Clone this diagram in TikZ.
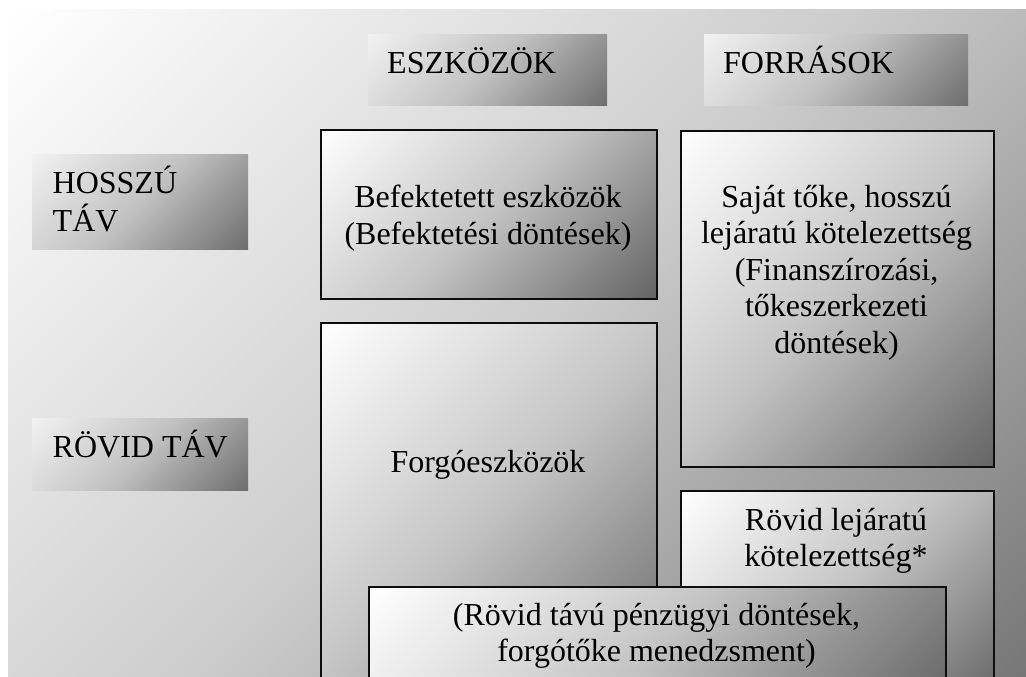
\documentclass[tikz,border=0pt]{standalone}
\usepackage{fontspec}
\setmainfont{Liberation Serif}

% grey tones of the diagonal gradients
\definecolor{bgmid}{HTML}{CDCDCD}
\definecolor{bgend}{HTML}{777777}
\definecolor{boxmid}{HTML}{C4C4C4}
\definecolor{boxend}{HTML}{646464}
\definecolor{headstart}{HTML}{F2F2F2}
\definecolor{headmid}{HTML}{C2C2C2}
\definecolor{headend}{HTML}{6E6E6E}

% corner-to-corner diagonal gradients (used with shading angle=-45)
\pgfdeclarehorizontalshading{bgshade}{100bp}{color(0bp)=(white); color(14.64bp)=(white); color(50bp)=(bgmid); color(85.36bp)=(bgend); color(100bp)=(bgend)}
\pgfdeclarehorizontalshading{boxshade}{100bp}{color(0bp)=(white); color(14.64bp)=(white); color(50bp)=(boxmid); color(85.36bp)=(boxend); color(100bp)=(boxend)}
\pgfdeclarehorizontalshading{headshade}{100bp}{color(0bp)=(headstart); color(14.64bp)=(headstart); color(50bp)=(headmid); color(85.36bp)=(headend); color(100bp)=(headend)}

\newcommand\bodyfont{\fontsize{32}{36.5}\selectfont}
\newcommand\headfont{\fontsize{32}{37.7}\selectfont}
\newcommand\bodytop{\rule{0pt}{33pt}}
\newcommand\headtop{\rule{0pt}{31pt}}

\tikzset{
  panel/.style={rectangle, inner sep=0pt, anchor=north west, shading=boxshade, shading angle=-45, draw=black!95, line width=2pt},
  headbox/.style={rectangle, inner sep=0pt, anchor=north west, shading=headshade, shading angle=-45},
  bodytext/.style={inner sep=0pt, anchor=north, align=center, font=\bodyfont, text=black},
  headtext/.style={inner sep=0pt, anchor=north west, align=left, font=\headfont, text=black}
}

\begin{document}
\begin{tikzpicture}[x=1pt, y=-1pt]
\useasboundingbox (0,0) rectangle (1026,677);
\clip (0,0) rectangle (1026,677);

% page background
\fill[white] (0,0) rectangle (1026,677);
\shade[shading=bgshade, shading angle=-45] (8,10) rectangle (1026,677);

% column and row headings
\node[headbox, minimum width=239pt, minimum height=71pt] (esz) at (368,34) {};
\node[headbox, minimum width=264pt, minimum height=71pt] (forr) at (704,34) {};
\node[headbox, minimum width=216pt, minimum height=95pt] (hos) at (32,154) {};
\node[headbox, minimum width=216pt, minimum height=72pt] (rov) at (32,418) {};

\node[headtext] (eszT) at (387,42) {\headtop ESZKÖZÖK};
\node[headtext] (forrT) at (723,42) {\headtop FORRÁSOK};
\node[headtext] (hosT) at (52.5,162.3) {\headtop HOSSZÚ\\TÁV};
\node[headtext] (rovT) at (52.5,426) {\headtop RÖVID TÁV};

% balance sheet panels
\node[panel, minimum width=336pt, minimum height=169pt] (bef) at (320,129) {};
\node[panel, minimum width=313pt, minimum height=336pt] (saj) at (680,130) {};
\node[panel, minimum width=336pt, minimum height=380pt] (forg) at (320,322) {};
\node[panel, minimum width=313pt, minimum height=215pt] (rl) at (680,490) {};
\node[panel, minimum width=577pt, minimum height=120pt] (bot) at (368,586) {};

\node[bodytext] (befT) at (488,174.3) {\bodytop Befektetett eszközök\\(Befektetési döntések)};
\node[bodytext] (sajT) at (836.5,174) {\bodytop Saját tőke, hosszú\\lejáratú kötelezettség\\(Finanszírozási,\\tőkeszerkezeti\\döntések)};
\node[bodytext] (forgT) at (488,439) {\bodytop Forgóeszközök};
\node[bodytext] (rlT) at (836,497) {\bodytop Rövid lejáratú\\kötelezettség*};
\node[bodytext] (botT) at (656.5,592) {\bodytop (Rövid távú pénzügyi döntések,\\forgótőke menedzsment)};
\end{tikzpicture}
\end{document}
